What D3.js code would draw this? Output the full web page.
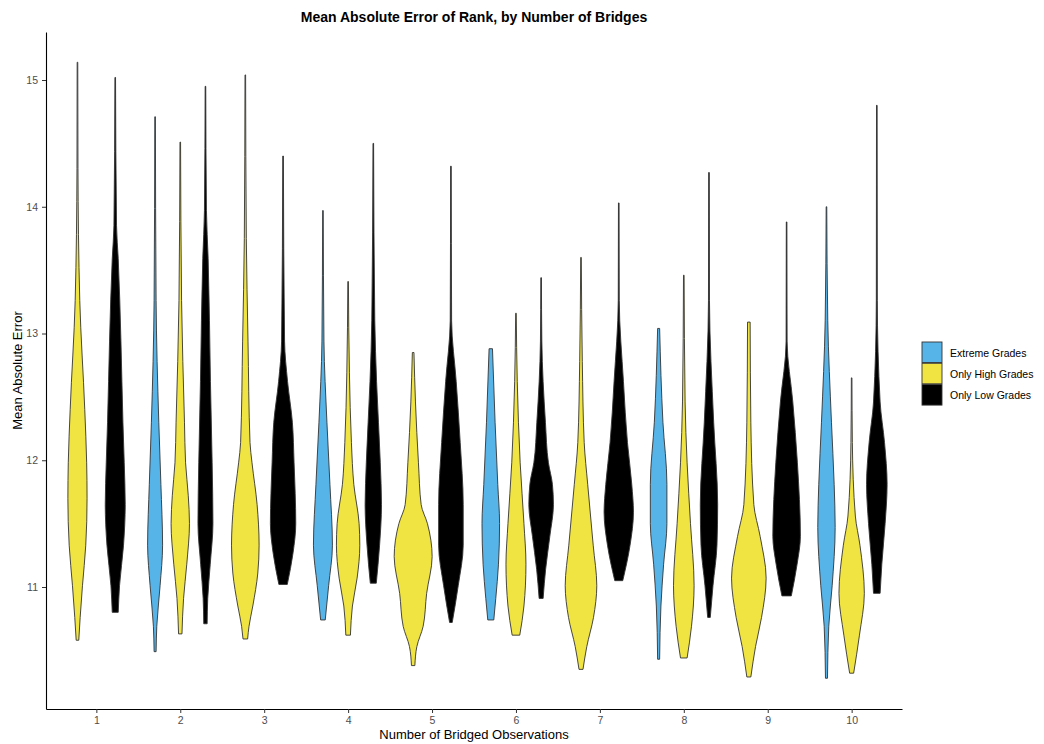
<!DOCTYPE html>
<html>
<head>
<meta charset="utf-8">
<script src="https://cdn.jsdelivr.net/npm/d3@7"></script>
<style>
  body { margin: 0; background: #fff; }
  text { font-family: "Liberation Sans", Arial, sans-serif; }
</style>
</head>
<body>
<div id="chart"></div>
<script>
// categories on the x axis
const bridges = [1, 2, 3, 4, 5, 6, 7, 8, 9, 10]
const yTicks = [11, 12, 13, 14, 15]
const seriesNames = ['Extreme Grades', 'Only High Grades', 'Only Low Grades']
const seriesColors = ['#56B4E9', '#F0E442', '#000000']

// violin outlines: [value, density] from top to bottom
const extremeGrades = [
  {x: 2,  pts: [[14.71,0.3],[13.26,1],[12.30,3.7],[11.81,5.8],[11.33,7.5],[11.01,5],[10.69,1.7],[10.49,1]]},
  {x: 4,  pts: [[13.97,0.3],[12.94,1],[12.30,4],[11.81,7],[11.33,9.5],[11.01,5.7],[10.74,2.3]]},
  {x: 6,  pts: [[12.88,1.7],[12.30,4.3],[11.81,7],[11.50,8.8],[11.18,7.7],[10.91,5],[10.74,3]]},
  {x: 8,  pts: [[13.04,1],[12.30,4.3],[11.81,8.3],[11.50,8.3],[11.18,5],[10.85,2.3],[10.43,1]]},
  {x: 10, pts: [[14.00,0.3],[13.10,1.3],[12.30,5],[11.81,7.7],[11.47,8.7],[11.01,5.7],[10.69,2.3],[10.28,1]]}
]
const onlyHigh = [
  {x: 1,  pts: [[15.14,0.3],[14.30,0.5],[13.26,2.3],[12.40,7.3],[11.98,9.2],[11.70,9.6],[11.33,8.3],[11.01,5],[10.76,2.7],[10.58,1.3]]},
  {x: 2,  pts: [[14.51,0.3],[13.26,1.3],[12.30,4.2],[11.98,5.3],[11.72,8],[11.50,9.2],[11.18,6.5],[10.91,3.3],[10.63,1.7]]},
  {x: 3,  pts: [[15.04,0.3],[13.75,1],[12.94,2.7],[12.14,4.7],[11.98,6.7],[11.65,11.8],[11.33,13.8],[11.11,12.5],[10.85,7.5],[10.69,3.7],[10.59,2.3]]},
  {x: 4,  pts: [[13.41,0.3],[12.69,1.3],[12.14,3.3],[11.81,5.7],[11.50,11],[11.33,11.7],[11.07,9],[10.85,4.3],[10.62,2.3]]},
  {x: 5,  pts: [[12.85,0.8],[12.46,2.3],[11.98,5.3],[11.65,8],[11.50,14.3],[11.24,19],[10.95,13.5],[10.69,10],[10.53,3.7],[10.38,1.7]]},
  {x: 6,  pts: [[13.16,0.3],[12.62,1.3],[11.98,4.2],[11.50,8],[11.18,10],[10.85,8],[10.62,3.8]]},
  {x: 7,  pts: [[13.60,0.3],[12.78,1.3],[12.14,3.2],[11.81,6.7],[11.33,12.2],[11.01,15.8],[10.76,12.5],[10.53,5.8],[10.35,2]]},
  {x: 8,  pts: [[13.46,0.3],[12.46,1.3],[11.98,3.3],[11.50,6.7],[11.01,10.3],[10.69,7.7],[10.44,3.3]]},
  {x: 9,  pts: [[13.09,1.3],[12.30,2],[11.65,5],[11.40,11.3],[11.07,17.3],[10.76,12.7],[10.53,6.7],[10.29,2]]},
  {x: 10, pts: [[12.65,0.3],[12.14,0.7],[11.56,3.7],[11.33,8.3],[10.95,12.7],[10.62,7.8],[10.32,2]]}
]
const onlyLow = [
  {x: 1,  pts: [[15.02,0.3],[13.85,1.3],[13.59,3],[12.94,5.7],[12.30,7.7],[11.98,9],[11.65,10],[11.33,8.3],[11.01,4.3],[10.80,3]]},
  {x: 2,  pts: [[14.95,0.3],[13.97,1],[13.59,2.7],[12.62,5],[11.98,6.7],[11.50,7.5],[11.18,4.8],[10.91,2.3],[10.71,1.7]]},
  {x: 3,  pts: [[14.40,0.3],[12.94,1.5],[12.62,4.5],[12.30,9.3],[11.98,11],[11.50,12.7],[11.27,10],[11.02,4.2]]},
  {x: 4,  pts: [[14.50,0.3],[13.10,1.5],[12.62,3.3],[11.98,7],[11.65,8.2],[11.33,6.3],[11.03,3]]},
  {x: 5,  pts: [[14.32,0.3],[13.10,0.7],[12.62,5.3],[12.14,9.3],[11.65,12.3],[11.33,12.3],[11.01,7.3],[10.72,1.3]]},
  {x: 6,  pts: [[13.44,0.3],[12.94,0.7],[12.30,4.3],[11.98,7.3],[11.81,11.3],[11.65,12.3],[11.40,8.7],[11.14,4.5],[10.91,2]]},
  {x: 7,  pts: [[14.03,0.3],[13.26,0.5],[12.62,4.7],[12.14,8.7],[11.81,13],[11.59,14.7],[11.33,11.3],[11.05,4]]},
  {x: 8,  pts: [[14.27,0.3],[13.26,0.5],[12.30,4.7],[11.65,8.7],[11.33,8],[11.01,4],[10.76,1.3]]},
  {x: 9,  pts: [[13.88,0.3],[12.94,0.5],[12.46,6.2],[11.98,10.8],[11.40,13.8],[11.18,10.5],[10.93,4.7]]},
  {x: 10, pts: [[14.80,0.3],[13.26,0.5],[12.46,3.3],[12.14,7.7],[11.81,10.3],[11.50,8.3],[11.18,5],[10.95,3.3]]}
]
const allSeries = [extremeGrades, onlyHigh, onlyLow]

// Define the SVG
const svgWidth = 1044, svgHeight = 744
const margin = {top: 32, right: 142, bottom: 35, left: 46}
const width = svgWidth - margin.left - margin.right
const height = svgHeight - margin.top - margin.bottom

const svg = d3.select("#chart")
  .append("svg")
  .attr("width", svgWidth)
  .attr("height", svgHeight)

const g = svg.append("g")
  .attr("transform", "translate(" + margin.left + "," + margin.top + ")")

// scales
const x = d3.scaleLinear()
  .domain([0.4, 10.6])
  .range([0, width])
const y = d3.scaleLinear()
  .domain([10.0375, 15.3787])
  .range([height, 0])
// density -> half width in category units
const dens = d3.scaleLinear()
  .domain([0, 21])
  .range([0, 0.25])

// dodge offset of a series inside its category (only series present there count)
function dodgeOffset(b, si) {
  const present = allSeries.map((s, i) => s.some(v => v.x === b) ? i : -1).filter(i => i >= 0)
  const n = present.length
  const k = present.indexOf(si)
  return -0.45 + 0.9 / n * (k + 0.5)
}

// violins
allSeries.forEach((series, si) => {
  series.forEach(v => {
    const cx = v.x + dodgeOffset(v.x, si)
    const area = d3.area()
      .curve(d3.curveMonotoneY)
      .y(d => y(d[0]))
      .x0(d => x(cx - dens(d[1])))
      .x1(d => x(cx + dens(d[1])))
    g.append("path")
      .datum(v.pts)
      .attr("d", area)
      .attr("fill", seriesColors[si])
      .attr("stroke", "#333333")
      .attr("stroke-width", 0.9)
  })
})

// Axes
const xAxis = g.append("g")
  .attr("transform", "translate(0," + height + ")")
  .call(d3.axisBottom(x).tickValues(bridges).tickFormat(d3.format("d"))
    .tickSize(4).tickSizeOuter(0).tickPadding(4))
const yAxis = g.append("g")
  .call(d3.axisLeft(y).tickValues(yTicks).tickFormat(d3.format("d"))
    .tickSize(4).tickSizeOuter(0).tickPadding(4))

;[xAxis, yAxis].forEach(a => {
  a.select(".domain").attr("stroke", "#000").attr("stroke-width", 1.1)
  a.selectAll(".tick line").attr("stroke", "#333")
  a.selectAll(".tick text")
    .attr("fill", "#4d4d4d")
    .attr("font-size", 10.5)
    .style("font-family", '"Liberation Sans", Arial, sans-serif')
})

// Title
svg.append("text")
  .attr("x", margin.left + width / 2)
  .attr("y", 22)
  .attr("text-anchor", "middle")
  .attr("font-size", 14)
  .attr("font-weight", "bold")
  .text("Mean Absolute Error of Rank, by Number of Bridges")

// X-axis label
svg.append("text")
  .attr("x", margin.left + width / 2)
  .attr("y", 739)
  .attr("text-anchor", "middle")
  .attr("font-size", 13)
  .text("Number of Bridged Observations")

// Y-axis label
svg.append("text")
  .attr("transform", "translate(22," + (margin.top + height / 2) + ") rotate(-90)")
  .attr("text-anchor", "middle")
  .attr("font-size", 13)
  .text("Mean Absolute Error")

// Legend
const legend = svg.append("g")
  .attr("transform", "translate(922,342)")
seriesNames.forEach((name, i) => {
  legend.append("rect")
    .attr("x", 0)
    .attr("y", i * 21.3)
    .attr("width", 20)
    .attr("height", 20.5)
    .attr("fill", seriesColors[i])
    .attr("stroke", "#333333")
    .attr("stroke-width", 0.9)
  legend.append("text")
    .attr("x", 28)
    .attr("y", i * 21.3 + 14.5)
    .attr("font-size", 10.5)
    .text(name)
})
</script>
</body>
</html>
